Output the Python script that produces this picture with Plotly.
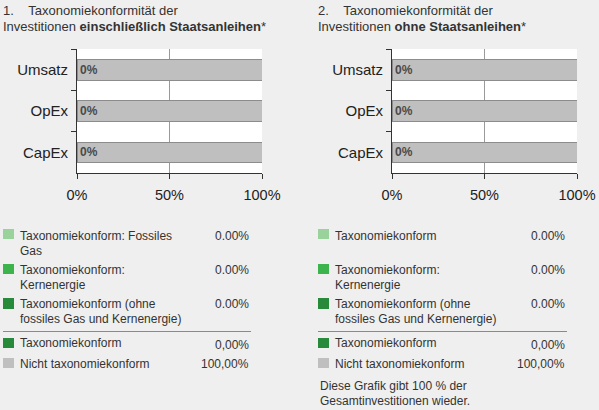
import plotly.graph_objects as go

W, H = 599, 410

# ---- data ----
categories = ["Umsatz", "OpEx", "CapEx"]
aligned_1 = [0, 0, 0]
not_aligned_1 = [100, 100, 100]
aligned_2 = [0, 0, 0]
not_aligned_2 = [100, 100, 100]
bar_labels = ["0%", "0%", "0%"]
x_ticks = [0, 50, 100]
x_tick_labels = ["0%", "50%", "100%"]

legend1_labels = ["Taxonomiekonform: Fossiles<br>Gas", "Taxonomiekonform:<br>Kernenergie",
                  "Taxonomiekonform (ohne<br>fossiles Gas und Kernenergie)"]
legend1_values = ["0.00%", "0.00%", "0.00%"]
legend2_labels = ["Taxonomiekonform", "Taxonomiekonform:<br>Kernenergie",
                  "Taxonomiekonform (ohne<br>fossiles Gas und Kernenergie)"]
legend2_values = ["0.00%", "0.00%", "0.00%"]
total_labels = ["Taxonomiekonform", "Nicht taxonomiekonform"]
total_values_1 = ["0,00%", "100,00%"]
total_values_2 = ["0,00%", "100,00%"]
footnote = "Diese Grafik gibt 100 % der<br>Gesamtinvestitionen wieder."

C_LIGHT = "#99d29a"
C_MID = "#3cb44b"
C_DARK = "#268a3a"
C_GRAY = "#bfbfbf"
legend_colors = [C_LIGHT, C_MID, C_DARK]
total_colors = [C_DARK, C_GRAY]

FONT = "Liberation Sans, Arial, sans-serif"
TXT = "#333333"
BG = "#efefef"


def px(x):
    return x / W


def py(y):
    return 1 - y / H


fig = go.Figure()

for i, (al, na) in enumerate([(aligned_1, not_aligned_1), (aligned_2, not_aligned_2)]):
    xa = "x" if i == 0 else "x2"
    ya = "y" if i == 0 else "y2"
    fig.add_trace(go.Bar(y=categories, x=al, orientation="h", marker_color=C_DARK,
                         xaxis=xa, yaxis=ya, width=0.5, showlegend=False, hoverinfo="skip"))
    fig.add_trace(go.Bar(y=categories, x=na, orientation="h", marker_color=C_GRAY,
                         marker_line=dict(color="#8c8c8c", width=1),
                         text=bar_labels, textposition="inside", insidetextanchor="start",
                         textfont=dict(family=FONT, size=12, color="#4a4a4a", weight="bold"),
                         xaxis=xa, yaxis=ya, width=0.5, showlegend=False, hoverinfo="skip"))

axis_common_x = dict(range=[0, 100], tickvals=x_ticks, ticktext=x_tick_labels,
                     showgrid=True, gridcolor="#9a9a9a", gridwidth=1, zeroline=False,
                     showline=True, linecolor="#333333", linewidth=1,
                     ticks="outside", ticklen=5, tickcolor="#333333",
                     ticklabelstandoff=4, fixedrange=True, automargin=False,
                     tickfont=dict(family=FONT, size=14.5, color="#222222"))
axis_common_y = dict(categoryorder="array", categoryarray=categories[::-1],
                     showgrid=False, zeroline=False, showline=True, linecolor="#333333",
                     linewidth=1, ticks="outside", ticklen=5, tickcolor="#333333",
                     tickson="boundaries", ticklabelstandoff=5,
                     fixedrange=True, automargin=False,
                     tickfont=dict(family=FONT, size=15, color="#222222"))

fig.update_layout(
    width=W, height=H, autosize=False,
    margin=dict(l=0, r=0, t=0, b=0, pad=0, autoexpand=False),
    paper_bgcolor=BG,
    plot_bgcolor="#ffffff",
    barmode="stack",
    bargap=0.5,
    showlegend=False,
    font=dict(family=FONT, color=TXT),
    xaxis=dict(domain=[px(77), px(262)], anchor="y", **axis_common_x),
    yaxis=dict(domain=[py(173), py(49)], anchor="x", **axis_common_y),
    xaxis2=dict(domain=[px(392), px(577)], anchor="y2", **axis_common_x),
    yaxis2=dict(domain=[py(173), py(49)], anchor="x2", **axis_common_y),
)

ann = []
shapes = []


def text(x, y, s, size=12, anchor="left", color=TXT):
    ann.append(dict(xref="paper", yref="paper", x=px(x), y=py(y), text=s, showarrow=False,
                    xanchor=anchor, yanchor="middle", align=anchor,
                    font=dict(family=FONT, size=size, color=color)))


# titles
text(1, 10, "1.&nbsp;&nbsp;&nbsp;&nbsp;Taxonomiekonformität der", size=13)
text(1, 26, "Investitionen <b>einschließlich Staatsanleihen</b>*", size=13)
text(316, 10, "2.&nbsp;&nbsp;&nbsp;&nbsp;Taxonomiekonformität der", size=13)
text(316, 26, "Investitionen <b>ohne Staatsanleihen</b>*", size=13)

row_sq = [(229, 239), (264, 274), (298, 309)]
row_txt = [236, 270, 304]


def legend_block(x0, txt_x, val_x, labels, values, tvals):
    for k in range(3):
        shapes.append(dict(type="rect", xref="paper", yref="paper",
                           x0=px(x0), x1=px(x0 + 11), y0=py(row_sq[k][1]), y1=py(row_sq[k][0]),
                           fillcolor=legend_colors[k], line=dict(width=0)))
        lines = labels[k].split("<br>")
        for j, ln in enumerate(lines):
            text(txt_x, row_txt[k] + 15 * j, ln)
        text(val_x, row_txt[k], values[k], anchor="right")
    shapes.append(dict(type="line", xref="paper", yref="paper",
                       x0=px(x0), x1=px(val_x), y0=py(331.5), y1=py(331.5),
                       line=dict(color="#8a8a8a", width=1)))
    for k, (yy, sq) in enumerate([(343, (338, 348)), (364, (358, 368))]):
        shapes.append(dict(type="rect", xref="paper", yref="paper",
                           x0=px(x0), x1=px(x0 + 11), y0=py(sq[1]), y1=py(sq[0]),
                           fillcolor=total_colors[k], line=dict(width=0)))
        text(txt_x, yy, total_labels[k])
        text(val_x, yy + (2 if k == 0 else 0), tvals[k], anchor="right")


legend_block(3, 18, 251, legend1_labels, legend1_values, total_values_1)
legend_block(318, 333, 567, legend2_labels, legend2_values, total_values_2)

for j, ln in enumerate(footnote.split("<br>")):
    text(318, 386 + 15 * j, ln)

fig.update_layout(annotations=ann, shapes=shapes)

fig.write_html(
    "out.html",
    config={"responsive": False, "displayModeBar": False},
    post_script="document.body.style.margin='0';document.body.style.background='%s';" % BG,
)
